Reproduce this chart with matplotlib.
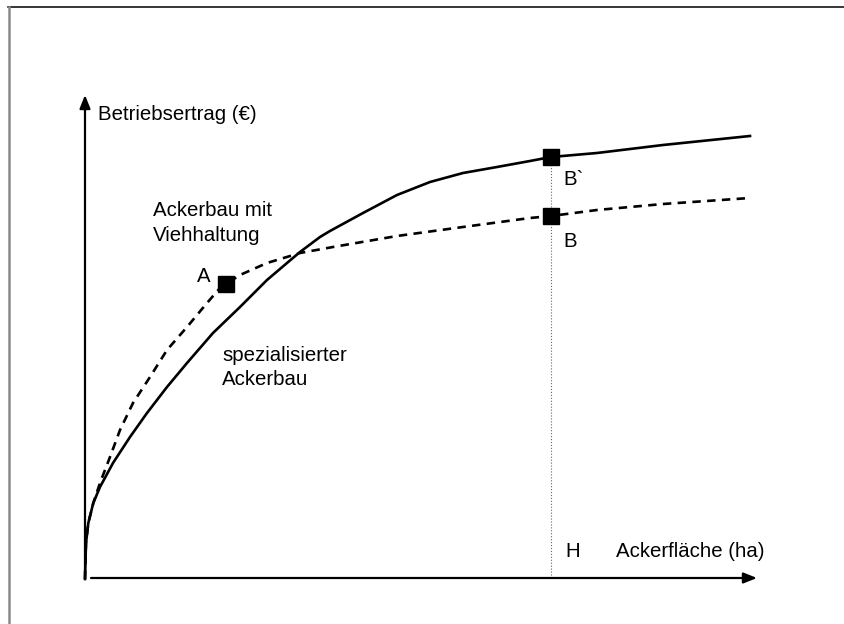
import matplotlib.pyplot as plt

# conceptual curves (x: Ackerfläche, y: Betriebsertrag)
spez_x = [0, 1, 3.3, 8.3, 15, 28, 45, 62, 82, 102, 128, 155, 182, 202, 215, 235, 245,
          278, 312, 345, 378, 412, 445, 466, 512, 578, 665]
spez_y = [0, 36, 56, 76, 92, 116, 142, 166, 192, 216, 246, 272, 299, 316, 327, 342, 348,
          366, 384, 397, 406, 412, 418, 422, 426, 434, 443]

vieh_x = [0, 1, 3.3, 8.3, 15, 25, 35, 48, 65, 82, 102, 122, 135, 141, 155, 182, 215, 248,
          312, 378, 445, 466, 512, 578, 665]
vieh_y = [0, 36, 56, 76, 96, 122, 149, 176, 202, 229, 252, 276, 291, 295, 304, 316, 326, 332,
          343, 352, 361, 363, 369, 375, 381]

# points A, B, B`
pt_x = [141, 466, 466]
pt_y = [295, 363, 422]
x_H = 466

fig = plt.figure(figsize=(8.45, 6.24), dpi=100)
ax = fig.add_axes([0, 0, 1, 1])
ax.set_xlim(-85, 760)
ax.set_ylim(-45, 579)
ax.axis('off')

font = dict(family='Liberation Sans', fontsize=14.7, color='black')

# frame (top and left only)
ax.plot([-77, 760], [572, 572], color='black', lw=1.1, clip_on=False)
ax.plot([-76, -76], [-45, 572], color='#8a8a8a', lw=1.8, clip_on=False)

# axes with arrow heads
arrow = dict(arrowstyle='-|>,head_length=0.8,head_width=0.32', lw=1.6, color='black',
             shrinkA=0, shrinkB=0, mutation_scale=10)
ax.annotate('', xy=(0, 484), xytext=(0, 0), arrowprops=arrow)
ax.annotate('', xy=(672, 1), xytext=(6, 1), arrowprops=arrow)

# dotted guide at H
ax.plot([x_H, x_H], [1, pt_y[2]], color='#666666', lw=0.8, ls=':')

# curves
ax.plot(spez_x, spez_y, color='black', lw=1.9, solid_joinstyle='round')
line, = ax.plot(vieh_x, vieh_y, color='black', lw=1.9, dash_joinstyle='round')
line.set_dashes([3.2, 2.4])

ax.plot(pt_x, pt_y, ls='none', marker='s', ms=11, color='black')

# labels
ax.text(13, 459, 'Betriebsertrag (€)', **font)
ax.text(68, 363, 'Ackerbau mit', **font)
ax.text(68, 338, 'Viehhaltung', **font)
ax.text(112, 297, 'A', **font)
ax.text(137, 218, 'spezialisierter', **font)
ax.text(137, 194, 'Ackerbau', **font)
ax.text(478, 394, 'B`', **font)
ax.text(478, 332, 'B', **font)
ax.text(480, 22, 'H', **font)
ax.text(531, 22, 'Ackerfläche (ha)', **font)

fig.savefig('out.png', dpi=100)
